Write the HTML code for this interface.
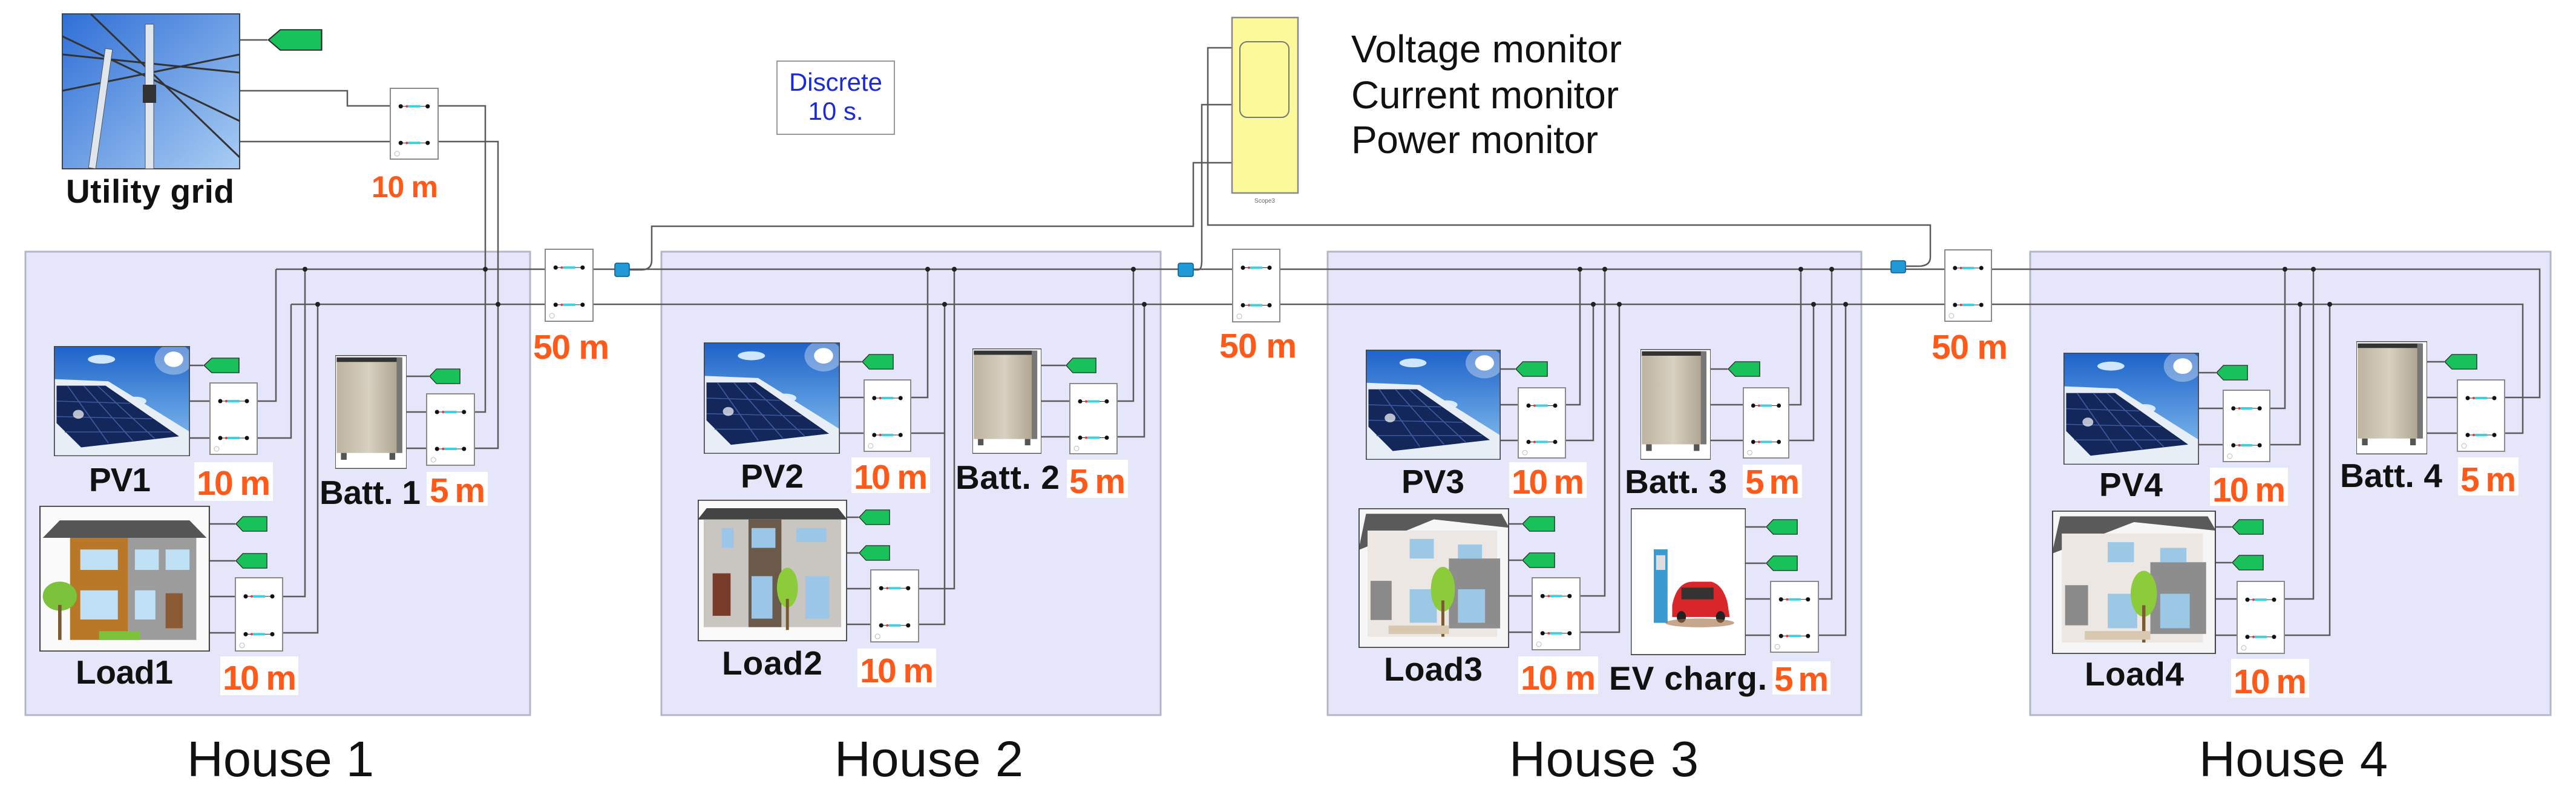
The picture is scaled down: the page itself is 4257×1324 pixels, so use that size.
<!DOCTYPE html>
<html><head><meta charset="utf-8"><style>
html,body{margin:0;padding:0;background:#fff;}
svg{display:block;}
.b{font-family:"Liberation Sans",sans-serif;font-weight:bold;font-size:55px;fill:#111;}
.o{font-family:"Liberation Sans",sans-serif;font-weight:bold;font-size:57px;fill:#ff5a1a;}
.h{font-family:"Liberation Sans",sans-serif;font-size:83px;fill:#111;}
.m{font-family:"Liberation Sans",sans-serif;font-size:64px;fill:#111;}
.w{stroke:#5a5a5a;stroke-width:2.5;fill:none;}
</style></head><body>
<svg width="4257" height="1324" viewBox="0 0 4257 1324" xmlns="http://www.w3.org/2000/svg">
<defs>
<linearGradient id="sky" x1="0" y1="0" x2="0" y2="1"><stop offset="0" stop-color="#1d62c9"/><stop offset="1" stop-color="#8cc6f2"/></linearGradient>
<linearGradient id="sky2" x1="0" y1="0" x2="1" y2="1"><stop offset="0" stop-color="#2f6fd6"/><stop offset="1" stop-color="#a9cdf3"/></linearGradient>
<linearGradient id="beige" x1="0" y1="0" x2="1" y2="0"><stop offset="0" stop-color="#bdb3a0"/><stop offset="0.5" stop-color="#d8d0c0"/><stop offset="1" stop-color="#a99f8c"/></linearGradient>
<symbol id="blk" viewBox="0 0 80 120" preserveAspectRatio="none">
<rect x="1" y="1" width="78" height="118" fill="#fff" stroke="#8a8a8a" stroke-width="2"/>
<line x1="18" y1="31" x2="62" y2="31" stroke="#333" stroke-width="1"/><line x1="18" y1="92" x2="62" y2="92" stroke="#333" stroke-width="1"/>
<rect x="30" y="29" width="20" height="4" fill="#3cd0e0"/><rect x="30" y="90" width="20" height="4" fill="#3cd0e0"/>
<circle cx="28" cy="31" r="2" fill="#e33"/><circle cx="28" cy="92" r="2" fill="#e33"/>
<circle cx="18" cy="31" r="3.5" fill="#111"/><circle cx="62" cy="31" r="3.5" fill="#111"/><circle cx="18" cy="92" r="3.5" fill="#111"/><circle cx="62" cy="92" r="3.5" fill="#111"/>
<circle cx="12" cy="110" r="4" fill="none" stroke="#bbb"/>
</symbol>
<symbol id="tag" viewBox="0 0 60 30" preserveAspectRatio="none">
<polygon points="1,15 14,1 59,1 59,29 14,29" fill="#19c15a" stroke="#2a2a2a" stroke-width="1.5"/>
</symbol>
<symbol id="pv" viewBox="0 0 100 100" preserveAspectRatio="none">
<rect width="100" height="100" fill="url(#sky)"/>
<ellipse cx="35" cy="12" rx="10" ry="4" fill="#cfe6ff"/><ellipse cx="60" cy="50" rx="8" ry="4" fill="#d8ecff"/>
<circle cx="88" cy="12" r="7" fill="#fff"/><circle cx="88" cy="12" r="14" fill="#fff" opacity="0.35"/>
<polygon points="0,30 40,32 100,78 100,100 0,100" fill="#e8eef5"/>
<polygon points="2,36 38,36 92,82 20,92 2,70" fill="#14275a"/>
<g stroke="#3d5aa0" stroke-width="0.8"><line x1="10" y1="36" x2="40" y2="88"/><line x1="22" y1="36" x2="58" y2="86"/><line x1="32" y1="36" x2="74" y2="84"/><line x1="2" y1="50" x2="56" y2="52"/><line x1="2" y1="64" x2="72" y2="66"/><line x1="8" y1="78" x2="86" y2="78"/></g>
<circle cx="18" cy="62" r="4" fill="#fff" opacity="0.7"/>
<rect width="100" height="100" fill="none" stroke="#444" stroke-width="1.5"/>
</symbol>
<symbol id="bat" viewBox="0 0 100 100" preserveAspectRatio="none">
<rect width="100" height="100" fill="#fff"/>
<rect x="2" y="2" width="90" height="84" fill="url(#beige)"/>
<rect x="2" y="2" width="90" height="4" fill="#333"/>
<rect x="86" y="2" width="8" height="84" fill="#777"/>
<rect x="8" y="86" width="8" height="6" fill="#555"/><rect x="76" y="86" width="8" height="6" fill="#555"/>
<rect width="100" height="100" fill="none" stroke="#444" stroke-width="1.5"/>
</symbol>
<symbol id="hs1" viewBox="0 0 100 100" preserveAspectRatio="none">
<rect width="100" height="100" fill="#fafafa"/>
<polygon points="12,10 88,10 98,22 2,22" fill="#555"/>
<rect x="18" y="22" width="34" height="70" fill="#b87828"/>
<rect x="52" y="22" width="40" height="70" fill="#9c9c9c"/>
<rect x="24" y="30" width="22" height="14" fill="#bfe0f5"/><rect x="56" y="30" width="14" height="14" fill="#bfe0f5"/><rect x="74" y="30" width="14" height="14" fill="#bfe0f5"/>
<rect x="24" y="58" width="22" height="20" fill="#bfe0f5"/><rect x="56" y="58" width="12" height="20" fill="#bfe0f5"/><rect x="74" y="60" width="10" height="24" fill="#8a5a35"/>
<circle cx="12" cy="62" r="10" fill="#7cc23a"/><rect x="11" y="68" width="2" height="24" fill="#7a5a30"/>
<rect x="35" y="86" width="24" height="6" fill="#7cc23a"/>
<rect width="100" height="100" fill="none" stroke="#444" stroke-width="1.5"/>
</symbol>
<symbol id="hs2" viewBox="0 0 100 100" preserveAspectRatio="none">
<rect width="100" height="100" fill="#fafafa"/>
<polygon points="6,6 94,6 100,14 0,14" fill="#444"/>
<rect x="4" y="14" width="92" height="76" fill="#c9c5c0"/>
<rect x="34" y="14" width="22" height="76" fill="#6b5a4a"/>
<rect x="16" y="20" width="8" height="14" fill="#9bc6e8"/><rect x="36" y="20" width="16" height="14" fill="#9bc6e8"/><rect x="66" y="20" width="20" height="10" fill="#9bc6e8"/>
<rect x="10" y="52" width="12" height="30" fill="#7a3c2a"/><rect x="36" y="54" width="14" height="30" fill="#9bc6e8"/><rect x="72" y="54" width="16" height="30" fill="#9bc6e8"/>
<ellipse cx="60" cy="62" rx="7" ry="14" fill="#8ccc3a"/><rect x="59" y="70" width="2" height="22" fill="#7a5a30"/>
<rect width="100" height="100" fill="none" stroke="#444" stroke-width="1.5"/>
</symbol>
<symbol id="hs3" viewBox="0 0 100 100" preserveAspectRatio="none">
<rect width="100" height="100" fill="#f6f6f6"/>
<polygon points="5,4 95,4 100,14 50,8 0,30" fill="#5a5a5a"/>
<rect x="6" y="16" width="86" height="76" fill="#ece7e2"/>
<rect x="60" y="36" width="34" height="50" fill="#8d8d8d"/>
<rect x="34" y="22" width="16" height="14" fill="#9cc8e6"/><rect x="66" y="26" width="16" height="10" fill="#9cc8e6"/>
<rect x="8" y="52" width="14" height="28" fill="#8a8a8a"/><rect x="34" y="58" width="18" height="24" fill="#9cc8e6"/><rect x="66" y="58" width="18" height="24" fill="#9cc8e6"/>
<ellipse cx="56" cy="58" rx="8" ry="16" fill="#8ccc3a"/><rect x="55" y="66" width="2" height="26" fill="#7a5a30"/>
<rect x="20" y="84" width="40" height="6" fill="#d8c8b0"/>
<rect width="100" height="100" fill="none" stroke="#444" stroke-width="1.5"/>
</symbol>
<symbol id="ev" viewBox="0 0 100 100" preserveAspectRatio="none">
<rect width="100" height="100" fill="#fff"/>
<rect x="20" y="28" width="12" height="50" fill="#3a9ad0"/><rect x="22" y="32" width="8" height="10" fill="#ddd"/>
<path d="M36,66 Q40,50 54,50 L70,50 Q80,52 84,64 L86,74 L36,74 Z" fill="#d9262a"/>
<rect x="44" y="54" width="28" height="8" fill="#333"/>
<circle cx="44" cy="74" r="4" fill="#222"/><circle cx="78" cy="74" r="4" fill="#222"/>
<ellipse cx="60" cy="78" rx="30" ry="3" fill="#a06a40" opacity="0.6"/>
<rect width="100" height="100" fill="none" stroke="#444" stroke-width="1.5"/>
</symbol>
<symbol id="sen" viewBox="0 0 26 24" preserveAspectRatio="none"><rect x="1" y="1" width="24" height="22" rx="3" fill="#1f9ad6" stroke="#0b5a8a" stroke-width="1.5"/></symbol>
</defs>

<rect x="42" y="416" width="834" height="766" fill="#e6e6fa" stroke="#b5b5c8" stroke-width="3"/>
<rect x="1093" y="416" width="825" height="766" fill="#e6e6fa" stroke="#b5b5c8" stroke-width="3"/>
<rect x="2194" y="416" width="882" height="766" fill="#e6e6fa" stroke="#b5b5c8" stroke-width="3"/>
<rect x="3355" y="416" width="860" height="766" fill="#e6e6fa" stroke="#b5b5c8" stroke-width="3"/>

<g class="w">
<path d="M396,66 H442"/>
<path d="M396,150 H574 V175 H644"/><path d="M396,234 H644"/>
<path d="M725,175 H802 V681 H785"/><path d="M725,234 H823 V741 H785"/>
<path d="M672,681 H704"/><path d="M672,741 H704"/><path d="M672,622 H709"/>
<path d="M456,445 H4197 V657 H4140"/><path d="M481,503 H4169 V716 H4140"/>
<path d="M314,604 H336"/><path d="M314,663 H346"/><path d="M314,724 H346"/>
<path d="M426,663 H456 V445"/><path d="M426,724 H481 V503"/>
<path d="M347,866 H389"/><path d="M347,927 H389"/><path d="M347,986 H388"/><path d="M347,1046 H388"/>
<path d="M468,986 H504 V445"/><path d="M468,1046 H525 V503"/>
<path d="M1388,598 H1424"/><path d="M1388,657 H1427"/><path d="M1388,716 H1427"/>
<path d="M1506,657 H1533 V445"/><path d="M1506,716 H1561 V503"/>
<path d="M1400,855 H1419"/><path d="M1400,914 H1419"/><path d="M1400,973 H1438"/><path d="M1400,1032 H1438"/>
<path d="M1519,973 H1577 V445"/><path d="M1519,1032 H1561 V716"/>
<path d="M1721,604 H1761"/><path d="M1721,663 H1767"/><path d="M1721,722 H1767"/>
<path d="M1847,663 H1873 V445"/><path d="M1847,722 H1891 V503"/>
<path d="M2480,610 H2504"/><path d="M2480,669 H2508"/><path d="M2480,728 H2508"/>
<path d="M2588,669 H2611 V445"/><path d="M2588,728 H2633 V503"/>
<path d="M2494,866 H2515"/><path d="M2494,926 H2515"/><path d="M2494,985 H2531"/><path d="M2494,1045 H2531"/>
<path d="M2612,985 H2652 V445"/><path d="M2612,1045 H2676 V503"/>
<path d="M2827,610 H2855"/><path d="M2827,669 H2880"/><path d="M2827,728 H2880"/>
<path d="M2957,669 H2976 V445"/><path d="M2957,728 H2997 V503"/>
<path d="M2885,871 H2918"/><path d="M2885,931 H2918"/><path d="M2885,990 H2925"/><path d="M2885,1050 H2925"/>
<path d="M3006,990 H3027 V445"/><path d="M3006,1050 H3050 V503"/>
<path d="M3634,616 H3662"/><path d="M3634,675 H3673"/><path d="M3634,735 H3673"/>
<path d="M3752,675 H3776 V445"/><path d="M3752,735 H3801 V503"/>
<path d="M3662,871 H3688"/><path d="M3662,930 H3688"/><path d="M3662,990 H3696"/><path d="M3662,1050 H3696"/>
<path d="M3776,990 H3823 V445"/><path d="M3776,1050 H3850 V503"/>
<path d="M4011,598 H4039"/><path d="M4011,657 H4060"/><path d="M4011,716 H4060"/>
<path d="M1041,446 H1060 Q1077,446 1077,430 V374 H1972 V269 H2036"/>
<path d="M1973,446 H1980 Q1986,446 1986,430 V173 H2036"/>
<path d="M3150,440 H3170 Q3190,440 3190,425 V372 H1996 V79 H2036"/>
</g>
<g fill="#222">
<circle cx="802" cy="445" r="4"/><circle cx="823" cy="503" r="4"/><circle cx="504" cy="445" r="4"/><circle cx="525" cy="503" r="4"/>
<circle cx="1533" cy="445" r="4"/><circle cx="1577" cy="445" r="4"/><circle cx="1561" cy="503" r="4"/><circle cx="1873" cy="445" r="4"/><circle cx="1891" cy="503" r="4"/>
<circle cx="2611" cy="445" r="4"/><circle cx="2652" cy="445" r="4"/><circle cx="2633" cy="503" r="4"/><circle cx="2676" cy="503" r="4"/>
<circle cx="2976" cy="445" r="4"/><circle cx="3027" cy="445" r="4"/><circle cx="2997" cy="503" r="4"/><circle cx="3050" cy="503" r="4"/>
<circle cx="3776" cy="445" r="4"/><circle cx="3823" cy="445" r="4"/><circle cx="3801" cy="503" r="4"/><circle cx="3850" cy="503" r="4"/>
</g>

<use href="#sen" x="1015" y="434" width="26" height="24"/>
<use href="#sen" x="1946" y="434" width="27" height="24"/>
<use href="#sen" x="3124" y="430" width="26" height="22"/>

<rect x="103" y="23" width="293" height="256" fill="url(#sky2)" stroke="#444" stroke-width="2"/>
<g stroke="#333" stroke-width="3" fill="none"><path d="M103,60 L396,200"/><path d="M103,90 L396,120"/><path d="M150,23 L396,260"/><path d="M103,150 L396,90"/></g>
<rect x="240" y="40" width="14" height="239" fill="#dfe6ee" stroke="#555"/><rect x="160" y="80" width="12" height="199" fill="#dfe6ee" stroke="#555" transform="rotate(8 166 180)"/>
<rect x="236" y="140" width="22" height="30" fill="#333"/>
<use href="#tag" x="442" y="48" width="91" height="36"/>
<text class="b" x="109" y="335" textLength="278">Utility grid</text>

<rect x="1284" y="101" width="194" height="121" fill="#fff" stroke="#999" stroke-width="2"/>
<text x="1381" y="150" text-anchor="middle" font-family="Liberation Sans, sans-serif" font-size="42" fill="#1a2ad8">Discrete</text>
<text x="1381" y="198" text-anchor="middle" font-family="Liberation Sans, sans-serif" font-size="42" fill="#1a2ad8">10 s.</text>

<rect x="2036" y="29" width="109" height="290" fill="#fbf99a" stroke="#888" stroke-width="2.5"/>
<rect x="2049" y="69" width="81" height="125" rx="12" fill="none" stroke="#777" stroke-width="2"/>
<text x="2090" y="335" text-anchor="middle" font-family="Liberation Sans, sans-serif" font-size="10" fill="#666">Scope3</text>
<text class="m" x="2233" y="103" textLength="447">Voltage monitor</text>
<text class="m" x="2233" y="179" textLength="442">Current monitor</text>
<text class="m" x="2233" y="253" textLength="408">Power monitor</text>

<use href="#blk" x="644" y="145" width="81" height="119"/>
<use href="#blk" x="900" y="411" width="81" height="121"/>
<use href="#blk" x="2036" y="411" width="80" height="122"/>
<use href="#blk" x="3213" y="412" width="79" height="120"/>
<use href="#blk" x="346" y="632" width="80" height="120"/>
<use href="#blk" x="704" y="650" width="81" height="120"/>
<use href="#blk" x="388" y="954" width="80" height="123"/>
<use href="#blk" x="1427" y="627" width="79" height="120"/>
<use href="#blk" x="1767" y="633" width="80" height="118"/>
<use href="#blk" x="1438" y="941" width="81" height="121"/>
<use href="#blk" x="2508" y="640" width="80" height="118"/>
<use href="#blk" x="2880" y="640" width="77" height="118"/>
<use href="#blk" x="2531" y="954" width="81" height="121"/>
<use href="#blk" x="2925" y="960" width="81" height="119"/>
<use href="#blk" x="3673" y="644" width="79" height="120"/>
<use href="#blk" x="4060" y="627" width="80" height="120"/>
<use href="#blk" x="3696" y="960" width="80" height="121"/>

<use href="#tag" x="336" y="591" width="60" height="26"/>
<use href="#tag" x="709" y="609" width="52" height="26"/>
<use href="#tag" x="389" y="853" width="53" height="26"/><use href="#tag" x="389" y="914" width="53" height="26"/>
<use href="#tag" x="1424" y="585" width="53" height="26"/>
<use href="#tag" x="1761" y="591" width="51" height="26"/>
<use href="#tag" x="1419" y="842" width="52" height="26"/><use href="#tag" x="1419" y="901" width="52" height="26"/>
<use href="#tag" x="2504" y="597" width="54" height="26"/>
<use href="#tag" x="2855" y="597" width="54" height="26"/>
<use href="#tag" x="2515" y="853" width="55" height="26"/><use href="#tag" x="2515" y="913" width="55" height="26"/>
<use href="#tag" x="2918" y="858" width="53" height="26"/><use href="#tag" x="2918" y="918" width="53" height="26"/>
<use href="#tag" x="3662" y="603" width="53" height="26"/>
<use href="#tag" x="4039" y="585" width="55" height="26"/>
<use href="#tag" x="3688" y="858" width="53" height="26"/><use href="#tag" x="3688" y="917" width="53" height="26"/>

<use href="#pv" x="89" y="572" width="225" height="182"/>
<use href="#bat" x="554" y="587" width="118" height="188"/>
<use href="#hs1" x="65" y="836" width="282" height="241"/>
<use href="#pv" x="1163" y="566" width="225" height="184"/>
<use href="#bat" x="1607" y="576" width="114" height="174"/>
<use href="#hs2" x="1153" y="826" width="247" height="234"/>
<use href="#pv" x="2257" y="578" width="223" height="182"/>
<use href="#bat" x="2711" y="577" width="116" height="183"/>
<use href="#hs3" x="2245" y="840" width="249" height="231"/>
<use href="#ev" x="2695" y="840" width="190" height="243"/>
<use href="#pv" x="3410" y="583" width="224" height="185"/>
<use href="#bat" x="3894" y="564" width="117" height="187"/>
<use href="#hs3" x="3391" y="844" width="271" height="237"/>

<g fill="#fff">
<rect x="321" y="764" width="130" height="64"/><rect x="705" y="780" width="101" height="56"/><rect x="364" y="1085" width="129" height="64"/>
<rect x="1407" y="756" width="130" height="59"/><rect x="1763" y="760" width="101" height="63"/><rect x="1417" y="1072" width="130" height="64"/>
<rect x="2494" y="764" width="128" height="59"/><rect x="2880" y="768" width="98" height="55"/><rect x="2509" y="1085" width="132" height="62"/><rect x="2929" y="1093" width="96" height="55"/>
<rect x="3652" y="773" width="129" height="63"/><rect x="4062" y="756" width="100" height="63"/><rect x="3687" y="1089" width="129" height="64"/>
</g>

<text class="o" x="614" y="326" style="font-size:50px" textLength="110">10 m</text>
<text class="o" x="881" y="593" textLength="126">50 m</text>
<text class="o" x="2015" y="591" textLength="128">50 m</text>
<text class="o" x="3192" y="593" textLength="126">50 m</text>

<text class="b" x="147" y="812" textLength="102">PV1</text>
<text class="o" x="325" y="818" textLength="122">10 m</text>
<text class="b" x="528" y="833" textLength="167">Batt. 1</text>
<text class="o" x="710" y="830" textLength="92">5 m</text>
<text class="b" x="125" y="1130" textLength="161">Load1</text>
<text class="o" x="368" y="1140" textLength="122">10 m</text>

<text class="b" x="1224" y="806" textLength="104">PV2</text>
<text class="o" x="1411" y="808" textLength="122">10 m</text>
<text class="b" x="1579" y="808" textLength="172">Batt. 2</text>
<text class="o" x="1767" y="815" textLength="93">5 m</text>
<text class="b" x="1193" y="1115" textLength="166">Load2</text>
<text class="o" x="1421" y="1128" textLength="122">10 m</text>

<text class="b" x="2316" y="815" textLength="104">PV3</text>
<text class="o" x="2498" y="816" textLength="120">10 m</text>
<text class="b" x="2685" y="815" textLength="169">Batt. 3</text>
<text class="o" x="2884" y="816" textLength="90">5 m</text>
<text class="b" x="2287" y="1125" textLength="163">Load3</text>
<text class="o" x="2513" y="1140" textLength="124">10 m</text>
<text class="b" x="2659" y="1140" textLength="261">EV charg.</text>
<text class="o" x="2932" y="1142" textLength="90">5 m</text>

<text class="b" x="3469" y="820" textLength="105">PV4</text>
<text class="o" x="3656" y="829" textLength="121">10 m</text>
<text class="b" x="3867" y="805" textLength="169">Batt. 4</text>
<text class="o" x="4066" y="812" textLength="92">5 m</text>
<text class="b" x="3445" y="1133" textLength="164">Load4</text>
<text class="o" x="3691" y="1146" textLength="121">10 m</text>

<text class="h" x="309" y="1283" textLength="309">House 1</text>
<text class="h" x="1379" y="1283" textLength="312">House 2</text>
<text class="h" x="2494" y="1283" textLength="313">House 3</text>
<text class="h" x="3634" y="1283" textLength="312">House 4</text>
</svg>
</body></html>
